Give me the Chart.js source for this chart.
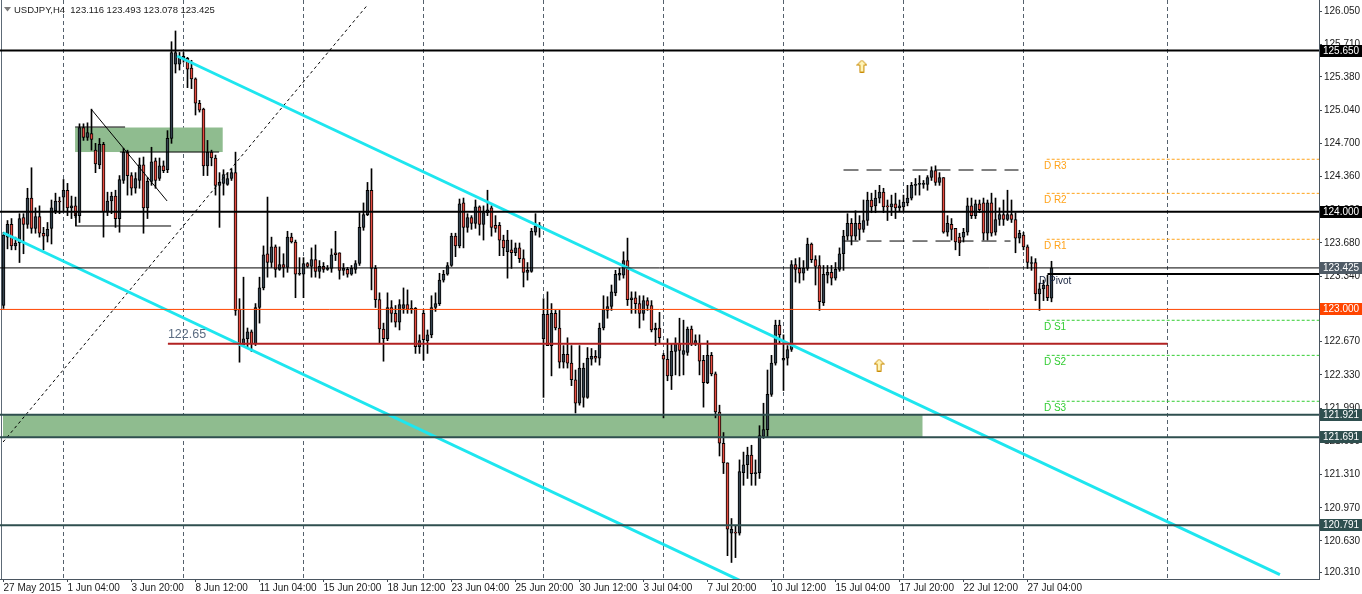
<!DOCTYPE html>
<html>
<head>
<meta charset="utf-8">
<script src="https://cdn.jsdelivr.net/npm/chart.js@4.4.1/dist/chart.umd.min.js"></script>
<style>
  html, body { margin: 0; padding: 0; background: #fff; }
</style>
</head>
<body>
<canvas id="chart" width="1362" height="594"></canvas>
<script>
// USDJPY H4, one value per 4h bar, bar 0 = 27 May 2015 12:00
const opens = [
  123.04,123.74,123.87,123.65,123.68,123.94,123.87,124.14,123.83,123.95,
  123.78,123.75,123.83,124.01,124.11,124.15,124.22,124.04,124.06,123.96,
  124.86,124.76,124.80,124.63,124.48,124.69,124.00,124.11,124.16,123.93,
  124.32,124.61,124.37,124.24,124.32,124.48,124.04,124.31,124.52,124.34,
  124.47,124.43,124.75,125.51,125.51,125.57,125.57,125.47,125.36,125.11,
  125.05,124.47,124.61,124.55,124.27,124.29,124.28,124.34,124.40,123.00,
  122.64,122.70,122.77,122.65,123.02,123.22,123.57,123.48,123.64,123.41,
  123.46,123.43,123.74,123.69,123.36,123.36,123.47,123.44,123.51,123.39,
  123.44,123.41,123.42,123.58,123.58,123.40,123.41,123.36,123.41,123.47,
  123.84,123.97,124.22,123.42,123.10,122.80,122.70,123.02,122.96,122.87,
  123.01,123.05,123.00,123.01,122.62,122.96,122.68,122.74,123.02,123.06,
  123.30,123.36,123.45,123.75,123.65,124.09,123.84,123.94,123.88,124.05,
  123.87,123.99,124.04,123.86,123.86,123.71,123.59,123.61,123.58,123.63,
  123.52,123.38,123.39,123.79,123.85,122.70,122.95,122.63,122.96,122.81,
  122.46,122.54,122.45,122.28,122.04,122.10,122.10,122.49,122.52,122.50,
  122.81,122.99,123.03,123.17,123.35,123.35,123.50,123.10,123.12,123.06,
  122.96,123.09,123.04,122.79,122.81,122.53,122.49,122.32,122.57,122.65,
  122.54,122.56,122.80,122.65,122.65,122.48,122.25,122.53,122.34,121.95,
  121.63,121.43,120.71,120.72,120.71,121.33,121.41,121.51,121.32,121.33,
  121.70,121.77,122.13,122.45,122.84,122.48,122.50,122.59,123.46,123.42,
  123.37,123.42,123.67,123.51,123.45,123.07,123.35,123.38,123.32,123.41,
  123.57,123.75,123.88,123.75,123.88,123.82,123.91,124.12,124.06,124.14,
  124.20,124.06,124.05,124.08,124.04,124.05,124.09,124.14,124.27,124.28,
  124.28,124.28,124.35,124.42,124.30,124.35,123.79,123.87,123.83,123.74,
  123.74,123.79,124.06,123.96,124.08,124.09,123.78,124.09,123.79,123.92,
  123.97,123.92,123.97,123.92,123.73,123.76,123.64,123.47,123.48,123.16,
  123.21,123.25,123.116
];
const highs = [
  123.79,123.91,123.93,123.74,123.98,123.98,124.24,124.45,124.04,124.06,
  123.84,123.89,124.12,124.19,124.15,124.33,124.29,124.16,124.15,124.90,
  124.90,124.91,125.05,124.70,124.75,124.71,124.20,124.20,124.22,124.37,
  124.65,124.63,124.40,124.40,124.55,124.56,124.35,124.66,124.55,124.55,
  124.52,124.83,125.74,125.85,125.63,125.63,125.58,125.55,125.37,125.14,
  125.06,124.73,124.63,124.58,124.40,124.43,124.40,124.44,124.61,123.11,
  123.33,122.81,122.79,123.06,123.33,123.65,124.15,123.74,123.66,123.64,
  123.57,123.80,123.78,123.71,123.53,123.53,123.48,123.63,123.66,123.50,
  123.48,123.45,123.62,123.80,123.58,123.47,123.43,123.45,123.50,123.99,
  124.09,124.30,124.44,123.45,123.17,122.86,123.17,123.09,123.04,123.10,
  123.22,123.20,123.09,123.02,122.74,122.99,122.79,123.14,123.17,123.37,
  123.40,123.48,123.78,123.78,124.13,124.14,123.98,123.96,124.12,124.06,
  124.06,124.22,124.06,123.96,123.89,123.76,123.81,123.71,123.68,123.68,
  123.61,123.48,123.83,123.98,123.89,123.11,123.18,123.06,122.99,122.99,
  122.63,122.71,122.63,122.38,122.63,122.45,122.61,122.60,122.58,122.86,
  123.14,123.13,123.25,123.40,123.42,123.59,123.73,123.18,123.18,123.14,
  123.14,123.12,123.09,122.86,122.97,122.55,122.70,122.65,122.71,122.91,
  122.89,122.82,122.83,122.74,122.74,122.53,122.68,122.56,122.36,122.02,
  121.74,121.43,120.86,120.79,121.46,121.54,121.59,121.61,121.46,121.81,
  122.04,122.38,122.53,122.89,122.89,122.74,122.63,123.50,123.52,123.53,
  123.50,123.73,123.68,123.55,123.55,123.45,123.45,123.45,123.48,123.63,
  123.81,123.98,123.93,124.01,123.96,124.12,124.20,124.19,124.22,124.27,
  124.24,124.12,124.17,124.19,124.12,124.17,124.27,124.30,124.34,124.37,
  124.32,124.37,124.46,124.47,124.40,124.35,123.96,123.93,123.83,123.78,
  123.83,124.14,124.14,124.12,124.12,124.14,124.12,124.19,124.14,124.04,
  124.12,124.22,124.12,123.99,123.81,123.79,123.66,123.54,123.52,123.27,
  123.30,123.35,123.493
];
const lows = [
  123.01,123.62,123.61,123.61,123.48,123.57,123.83,123.78,123.78,123.74,
  123.61,123.69,123.67,123.98,123.98,124.01,123.96,123.93,123.94,123.89,
  124.73,124.73,124.63,124.40,124.44,123.74,123.96,123.98,123.84,123.79,
  124.29,124.17,124.17,124.19,124.24,123.78,123.93,124.27,124.24,124.32,
  124.40,124.40,124.70,125.42,125.45,125.53,125.27,125.26,124.99,125.02,
  124.37,124.37,124.47,124.17,123.84,124.17,124.27,124.32,122.94,122.46,
  122.63,122.61,122.57,122.63,122.86,123.20,123.33,123.43,123.33,123.40,
  123.33,123.38,123.68,123.12,123.35,123.12,123.43,123.33,123.33,123.32,
  123.38,123.40,123.38,123.50,123.31,123.35,123.33,123.35,123.37,123.45,
  123.81,123.96,123.20,123.02,122.65,122.47,122.68,122.87,122.82,122.79,
  122.96,122.96,122.96,122.55,122.55,122.48,122.55,122.71,122.98,123.04,
  123.28,123.35,123.44,123.54,123.63,123.63,123.79,123.82,123.83,123.76,
  123.71,123.96,123.75,123.79,123.55,123.55,123.32,123.42,123.55,123.48,
  123.23,123.30,123.38,123.76,123.74,122.10,122.63,122.32,122.79,122.40,
  122.40,122.40,122.22,121.94,122.02,122.00,122.09,122.43,122.46,122.43,
  122.79,122.91,122.99,123.14,123.30,123.32,123.04,122.96,122.96,122.81,
  122.89,122.99,122.77,122.63,122.66,121.89,122.27,122.18,122.33,122.32,
  122.33,122.53,122.63,122.63,122.33,122.00,122.24,122.32,121.89,121.50,
  121.32,120.48,120.41,120.46,120.69,121.20,121.27,121.20,121.20,121.27,
  121.68,121.69,122.11,122.43,122.65,122.17,122.43,122.57,123.28,123.27,
  123.30,123.40,123.48,123.25,122.99,123.04,123.27,123.25,123.30,123.39,
  123.40,123.71,123.66,123.71,123.71,123.79,123.86,123.99,123.99,124.09,
  123.99,123.91,123.96,123.93,124.01,124.01,124.06,124.12,124.17,124.17,
  124.24,124.22,124.32,124.27,124.27,123.78,123.75,123.71,123.61,123.55,
  123.69,123.76,123.93,123.93,123.99,123.71,123.71,123.75,123.76,123.86,
  123.86,123.91,123.89,123.58,123.68,123.61,123.42,123.40,123.09,122.99,
  123.09,123.09,123.078
];
const closes = [
  123.76,123.87,123.65,123.68,123.93,123.87,124.14,123.83,123.95,123.78,
  123.75,123.82,124.04,124.11,124.10,124.22,124.04,124.06,123.96,124.86,
  124.76,124.81,124.74,124.49,124.69,124.00,124.11,124.16,123.93,124.33,
  124.61,124.37,124.24,124.34,124.48,124.04,124.31,124.51,124.32,124.47,
  124.42,124.75,125.63,125.63,125.58,125.59,125.46,125.36,125.11,125.04,
  124.47,124.61,124.55,124.27,124.30,124.38,124.34,124.40,122.99,122.65,
  122.70,122.77,122.65,123.02,123.22,123.56,123.48,123.64,123.41,123.46,
  123.43,123.74,123.69,123.36,123.36,123.47,123.44,123.51,123.39,123.44,
  123.41,123.42,123.56,123.56,123.40,123.42,123.36,123.42,123.47,123.84,
  123.97,124.22,123.42,123.10,122.80,122.70,123.02,122.96,122.87,123.05,
  123.05,123.00,123.01,122.62,122.68,122.69,122.74,123.02,123.06,123.30,
  123.36,123.45,123.75,123.65,124.08,123.84,123.94,123.88,124.05,123.87,
  123.99,124.02,123.84,123.83,123.71,123.63,123.71,123.58,123.63,123.52,
  123.38,123.40,123.80,123.85,123.85,122.95,122.63,122.96,122.81,122.46,
  122.54,122.45,122.28,122.04,122.40,122.40,122.50,122.52,122.50,122.81,
  123.00,123.03,123.18,123.36,123.37,123.50,123.10,123.12,123.06,122.96,
  123.09,123.04,122.79,122.81,122.71,122.49,122.32,122.57,122.65,122.58,
  122.58,122.80,122.65,122.68,122.47,122.25,122.53,122.34,121.95,121.63,
  121.43,120.75,120.75,120.71,121.34,121.41,121.51,121.32,121.33,121.71,
  121.77,122.13,122.45,122.84,122.74,122.50,122.59,123.46,123.41,123.37,
  123.42,123.67,123.51,123.44,123.08,123.36,123.38,123.32,123.41,123.57,
  123.75,123.88,123.75,123.88,123.82,123.91,124.12,124.05,124.14,124.20,
  124.05,124.05,124.08,124.04,124.06,124.10,124.14,124.27,124.28,124.28,
  124.28,124.35,124.42,124.30,124.35,123.79,123.88,123.82,123.69,123.68,
  123.79,124.06,123.96,124.08,124.02,123.78,124.09,123.78,123.92,123.97,
  123.92,123.97,123.92,123.73,123.78,123.64,123.48,123.48,123.16,123.21,
  123.25,123.12,123.425
];

const timeLabels = ['27 May 2015','1 Jun 04:00','3 Jun 20:00','8 Jun 12:00','11 Jun 04:00',
  '15 Jun 20:00','18 Jun 12:00','23 Jun 04:00','25 Jun 20:00','30 Jun 12:00','3 Jul 04:00',
  '7 Jul 20:00','10 Jul 12:00','15 Jul 04:00','17 Jul 20:00','22 Jul 12:00','27 Jul 04:00'];
const timeLabelBars = [0,16,32,48,64,80,96,112,128,144,160,176,192,208,224,240,256];
const weekGridBars = [15,45,75,105,135,165,195,225,255,291];
const priceTicks = [126.050,125.710,125.380,125.040,124.700,124.360,124.020,123.680,123.340,
  123.000,122.670,122.330,121.990,121.650,121.310,120.970,120.630,120.310];

// horizontal levels across the whole chart
const levelPrices = [125.650, 124.000, 123.425, 123.000, 121.921, 121.691, 120.791];
// support line 122.65
const supportPrice = 122.65;
const supportBars = [41.1, 291];
// daily pivots
const pivotNames = ['D R3','D R2','D R1','D Pivot','D S1','D S2','D S3'];
const pivotPrices = [124.537, 124.188, 123.718, 123.363, 122.889, 122.530, 122.060];
const pivotStartBar = 260.8;
// channel (bar, price)
const channelUpper = [[43.4, 125.594], [319.1, 120.286]];
const channelLower = [[-0.1, 123.785], [190, 120.112]];
const dottedTrend = [[-0.1, 121.643], [91, 126.116]];
const wedgeLine = [[21.9, 125.051], [40.9, 124.110]];
const boxLines = [
  [[17.9, 124.867], [30.4, 124.867]],
  [[29.1, 124.611], [53.9, 124.611]],
  [[17.9, 123.854], [41.9, 123.854]],
  [[18.1, 123.987], [18.1, 123.854]]
];
const rangeHigh = [[210, 124.427], [253.75, 124.427]];
const rangeLow = [[210, 123.700], [251.75, 123.700]];
// shaded zones: [fromBar, toBar, top, bottom]
const zones = [[17.9, 54.8, 124.862, 124.611], [-0.125, 229.75, 121.921, 121.691]];
// up arrows (bar, price)
const arrows = [[214.6, 125.491], [218.9, 122.431]];

const yMin = 120.241, yMax = 126.167;
const xMin = -0.875, xMax = 328.875;

const bullFill = '#34424e', bearFill = '#e54b40';
const bars = opens.map((_, i) => i);
const axisFont = { family: 'Liberation Sans, Arial, sans-serif', size: 10 };

function seg(points, color, width, dash) {
  return {
    type: 'line',
    data: points.map(p => ({ x: p[0], y: p[1] })),
    borderColor: color, borderWidth: width, borderDash: dash || [],
    pointRadius: 0, fill: false, tension: 0, order: 0
  };
}

function arrowImage() {
  const c = document.createElement('canvas');
  c.width = 11; c.height = 13;
  const g = c.getContext('2d');
  g.beginPath();
  g.moveTo(5.5, 0.5); g.lineTo(10.5, 5.5); g.lineTo(7.5, 5.5); g.lineTo(7.5, 12.5);
  g.lineTo(3.5, 12.5); g.lineTo(3.5, 5.5); g.lineTo(0.5, 5.5); g.closePath();
  g.fillStyle = '#fff4b8'; g.fill();
  g.strokeStyle = '#c98a00'; g.lineWidth = 1; g.stroke();
  return c;
}

const levelColors = ['#000', '#000', '#000', '#ff4500', '#2f4f4f', '#2f4f4f', '#2f4f4f'];
const levelWidths = [2, 2, 1, 1, 2, 2, 2];
const levelBoxes = ['#000', '#000', '#4f5b66', '#ff4500', '#2f4f4f', '#2f4f4f', '#2f4f4f'];

const datasets = [];

levelPrices.forEach((p, i) => {
  datasets.push(seg([[xMin, p], [xMax, p]], levelColors[i], levelWidths[i]));
});
datasets.push(seg([[supportBars[0], supportPrice], [supportBars[1], supportPrice]], '#b22222', 2));
pivotPrices.forEach((p, i) => {
  if (i === 3) datasets.push(seg([[pivotStartBar + 0.2, p], [xMax, p]], '#000', 2));
  else datasets.push(seg([[pivotStartBar, p], [xMax, p]], i < 3 ? '#ffa31a' : '#32cd32', 1, [3, 2]));
});
datasets.push(seg(channelUpper, '#1ee6ef', 3));
datasets.push(seg(channelLower, '#1ee6ef', 3));
datasets.push(seg(dottedTrend, '#000', 1, [3, 3]));
datasets.push(seg(wedgeLine, '#000', 1));
boxLines.forEach(b => datasets.push(seg(b, '#000', 1)));
datasets.push(seg(rangeHigh, '#000', 1, [15, 8]));
datasets.push(seg(rangeLow, '#000', 1, [15, 8]));

const arrowImg = arrowImage();
datasets.push({
  type: 'scatter',
  data: arrows.map(a => ({ x: a[0], y: a[1] })),
  pointStyle: arrowImg, pointRadius: 6, order: 0
});

datasets.push({
  type: 'bar',
  data: bars.map(i => ({ x: i, y: [opens[i], closes[i]] })),
  backgroundColor: ctx => closes[ctx.dataIndex] >= opens[ctx.dataIndex] ? bullFill : bearFill,
  borderColor: '#000', borderWidth: 1, borderSkipped: false,
  barThickness: 3, minBarLength: 1, grouped: false, order: 2
});
datasets.push({
  type: 'bar',
  data: bars.map(i => ({ x: i, y: [lows[i], highs[i]] })),
  backgroundColor: '#000', borderWidth: 0,
  barThickness: 1, minBarLength: 1, grouped: false, order: 3
});

const overlay = {
  id: 'overlay',
  beforeDatasetsDraw(chart) {
    const { ctx, chartArea: a, scales: { x, y } } = chart;
    ctx.save();
    ctx.beginPath(); ctx.rect(a.left, a.top, a.width, a.height); ctx.clip();
    ctx.fillStyle = '#8fbc8f';
    zones.forEach(z => {
      const x0 = x.getPixelForValue(z[0]), x1 = x.getPixelForValue(z[1]);
      const y0 = y.getPixelForValue(z[2]), y1 = y.getPixelForValue(z[3]);
      ctx.fillRect(x0, y0, x1 - x0, y1 - y0);
    });
    // left frame
    ctx.fillStyle = '#5d6a76';
    ctx.fillRect(a.left + 1, a.top, 1, a.height);
    ctx.restore();
  },
  afterDatasetsDraw(chart) {
    const { ctx, scales: { x, y } } = chart;
    ctx.save();
    ctx.textBaseline = 'bottom';
    ctx.font = '12.5px "Liberation Sans", Arial, sans-serif';
    ctx.fillStyle = '#5b6c82';
    ctx.fillText(supportPrice.toFixed(2), x.getPixelForValue(supportBars[0]), y.getPixelForValue(supportPrice) - 3);
    ctx.font = '10px "Liberation Sans", Arial, sans-serif';
    ctx.textBaseline = 'middle';
    pivotNames.forEach((n, i) => {
      ctx.fillStyle = i < 3 ? '#ffa31a' : (i === 3 ? '#14213d' : '#32cd32');
      const bx = i === 3 ? pivotStartBar - 1.9 : pivotStartBar - 0.7;
      ctx.fillText(n, x.getPixelForValue(bx), y.getPixelForValue(pivotPrices[i]) + 7);
    });
    ctx.restore();
  },
  afterDraw(chart) {
    const { ctx, chartArea: a, scales: { y } } = chart;
    ctx.save();
    ctx.font = '10px "Liberation Sans", Arial, sans-serif';
    ctx.textBaseline = 'middle';
    levelPrices.forEach((p, i) => {
      const py = Math.round(y.getPixelForValue(p));
      ctx.fillStyle = levelBoxes[i];
      ctx.fillRect(a.right + 1, py - 6, chart.width - a.right - 1, 12);
      ctx.fillStyle = '#fff';
      ctx.fillText(p.toFixed(3), a.right + 4, py + 0.5);
    });
    // header
    const last = opens.length - 1;
    ctx.fillStyle = '#7a7a7a';
    ctx.beginPath(); ctx.moveTo(4, 7); ctx.lineTo(11, 7); ctx.lineTo(7.5, 11.5); ctx.closePath(); ctx.fill();
    ctx.fillStyle = '#222';
    ctx.font = '9.5px "Liberation Sans", Arial, sans-serif';
    ctx.fillText('USDJPY,H4  ' + [opens[last], highs[last], lows[last], closes[last]].map(v => v.toFixed(3)).join(' '), 14, 10);
    ctx.restore();
  }
};

new Chart(document.getElementById('chart'), {
  type: 'bar',
  data: { datasets },
  options: {
    responsive: false,
    animation: false,
    events: [],
    layout: { padding: 0, autoPadding: false },
    plugins: { legend: { display: false }, tooltip: { enabled: false } },
    scales: {
      x: {
        type: 'linear', position: 'bottom', min: xMin, max: xMax, offset: false, bounds: 'data',
        afterBuildTicks: s => { s.ticks = timeLabelBars.map(v => ({ value: v })); },
        afterFit: s => { s.height = 15; s.paddingLeft = 0; s.paddingRight = 0; },
        ticks: {
          autoSkip: false, maxRotation: 0, align: 'start', padding: 0, color: '#1a1a1a', font: axisFont,
          callback: (v, i) => timeLabels[i]
        },
        grid: { offset: false, drawOnChartArea: false, drawTicks: true, tickLength: 3, color: '#404850' },
        border: { display: true, color: '#4a5560' }
      },
      xg: {
        type: 'linear', position: 'bottom', min: xMin, max: xMax, offset: false, bounds: 'data',
        afterBuildTicks: s => { s.ticks = weekGridBars.map(v => ({ value: v })); },
        afterFit: s => { s.height = 0; s.paddingLeft = 0; s.paddingRight = 0; },
        ticks: { display: false },
        grid: { offset: false, drawTicks: false, color: '#55616d', lineWidth: 1 },
        border: { display: false, dash: [4, 3] }
      },
      y: {
        type: 'linear', position: 'right', min: yMin, max: yMax, bounds: 'data',
        afterBuildTicks: s => { s.ticks = priceTicks.map(v => ({ value: v })); },
        afterFit: s => { s.width = 43; s.paddingTop = 0; s.paddingBottom = 0; },
        ticks: { color: '#1a1a1a', padding: 2, font: axisFont, callback: v => v.toFixed(3) },
        grid: { drawOnChartArea: false, drawTicks: true, tickLength: 3, color: '#404850' },
        border: { display: true, color: '#4a5560' }
      }
    }
  },
  plugins: [overlay]
});
</script>
</body>
</html>
